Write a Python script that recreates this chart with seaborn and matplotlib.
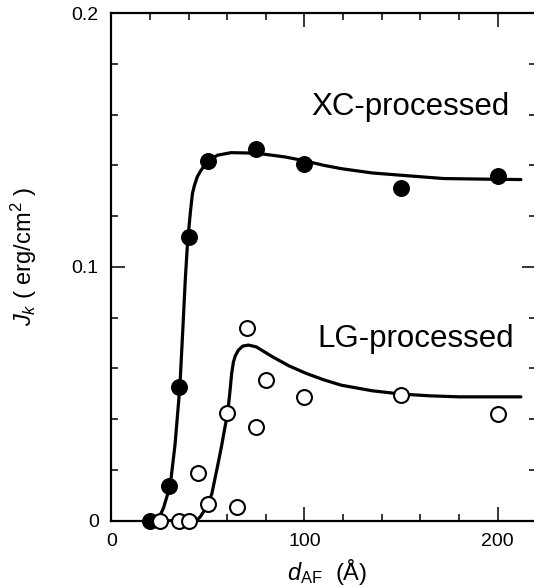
import matplotlib
matplotlib.use("Agg")
import matplotlib.pyplot as plt
from matplotlib.ticker import MultipleLocator
import seaborn as sns
import pandas as pd

# ---- data ----
xc_d = [20, 30, 35, 40, 50, 75, 100, 150, 200]
xc_j = [0.0, 0.0138, 0.0528, 0.1118, 0.1416, 0.1463, 0.1407, 0.1309, 0.1357]

lg_d = [25, 35, 40, 45, 50, 60, 65, 70, 75, 80, 100, 150, 200]
lg_j = [0.0, 0.0, 0.0, 0.0189, 0.0066, 0.0423, 0.0055, 0.0761, 0.0370,
        0.0554, 0.0488, 0.0495, 0.0420]

xc_fit_d = [20, 24, 27, 30.5, 33, 35.5, 37, 38.3, 39.5, 41, 42, 43, 44.5, 46.4,
            50, 55, 62, 75, 90, 100, 110, 119, 135, 150, 172, 190, 212]
xc_fit_j = [0.0, 0.0, 0.005, 0.0138, 0.030, 0.0528, 0.075, 0.095, 0.110, 0.122,
            0.1289, 0.132, 0.1355, 0.138, 0.1416, 0.1440, 0.1450, 0.1448, 0.1433,
            0.1418, 0.1400, 0.1387, 0.1370, 0.1361, 0.1348, 0.1346, 0.1344]

lg_fit_d = [25, 35, 44, 46, 48, 50, 52, 53.5, 55, 57, 58.5, 60.2, 61.3, 62.3, 63.2,
            64.2, 65.8, 68, 71, 75, 83.4, 92, 101, 110, 119, 135, 150, 165, 180, 212]
lg_fit_j = [0.0, 0.0, 0.0, 0.0015, 0.0038, 0.0066, 0.0105, 0.016, 0.0215, 0.0291,
            0.0355, 0.0423, 0.0500, 0.058, 0.0625, 0.0650, 0.0672, 0.0688, 0.0692,
            0.0685, 0.0646, 0.0610, 0.058, 0.0555, 0.0534, 0.0512, 0.0499, 0.0492,
            0.0488, 0.0488]

x_ticks = [0, 100, 200]
x_ticklabels = ["0", "100", "200"]
y_ticks = [0, 0.1, 0.2]
y_ticklabels = ["0", "0.1", "0.2"]

sns.set_theme(style="ticks")
plt.rcParams["font.family"] = ["Liberation Sans", "DejaVu Sans"]
plt.rcParams["mathtext.fontset"] = "custom"
plt.rcParams["mathtext.rm"] = "Liberation Sans"
plt.rcParams["mathtext.it"] = "Liberation Sans:italic"
plt.rcParams["mathtext.bf"] = "Liberation Sans:bold"

fig = plt.figure(figsize=(5.34, 5.87), dpi=100)
ax = fig.add_axes([0.2084, 0.1129, 0.796, 0.8649])

xc_fit = pd.DataFrame({"d": xc_fit_d, "J": xc_fit_j})
lg_fit = pd.DataFrame({"d": lg_fit_d, "J": lg_fit_j})
xc = pd.DataFrame({"d": xc_d, "J": xc_j})
lg = pd.DataFrame({"d": lg_d, "J": lg_j})

sns.lineplot(data=xc_fit, x="d", y="J", ax=ax, color="black", lw=2.3,
             sort=False, estimator=None, zorder=2)
sns.lineplot(data=lg_fit, x="d", y="J", ax=ax, color="black", lw=2.3,
             sort=False, estimator=None, zorder=2)
sns.scatterplot(data=xc, x="d", y="J", ax=ax, s=125, color="black",
                edgecolor="black", linewidth=1.0, zorder=4, clip_on=False)
sns.scatterplot(data=lg, x="d", y="J", ax=ax, s=115, facecolor="white",
                edgecolor="black", linewidth=1.5, zorder=4, clip_on=False)

ax.set_xlim(0, 220)
ax.set_ylim(0, 0.2)
ax.set_xticks(x_ticks)
ax.set_xticklabels(x_ticklabels)
ax.set_yticks(y_ticks)
ax.set_yticklabels(y_ticklabels)
ax.xaxis.set_minor_locator(MultipleLocator(20))
ax.yaxis.set_minor_locator(MultipleLocator(0.02))
ax.tick_params(which="both", direction="in", top=True, right=True,
               color="black", width=1.1, labelsize=14, labelcolor="black")
ax.tick_params(which="major", length=10, pad=9)
ax.tick_params(which="minor", length=5)
for sp in ax.spines.values():
    sp.set_color("black")
    sp.set_linewidth(1.6)

ax.set_xlabel(r"$d_{\mathrm{AF}}$  (Å)", fontsize=17, color="black")
ax.set_ylabel(r"$J_k$ ( erg/cm$^2$ )", fontsize=17, color="black")
ax.xaxis.set_label_coords(0.507, -0.101)
ax.xaxis.label.set_va("center")
ax.yaxis.set_label_coords(-0.205, 0.52)
ax.yaxis.label.set_va("center")

ax.text(154.6, 0.1597, "XC-processed", fontsize=22.5, ha="center",
        va="baseline", color="black")
ax.text(157.5, 0.0685, "LG-processed", fontsize=22.5, ha="center",
        va="baseline", color="black")

fig.savefig("out.png", dpi=100)
